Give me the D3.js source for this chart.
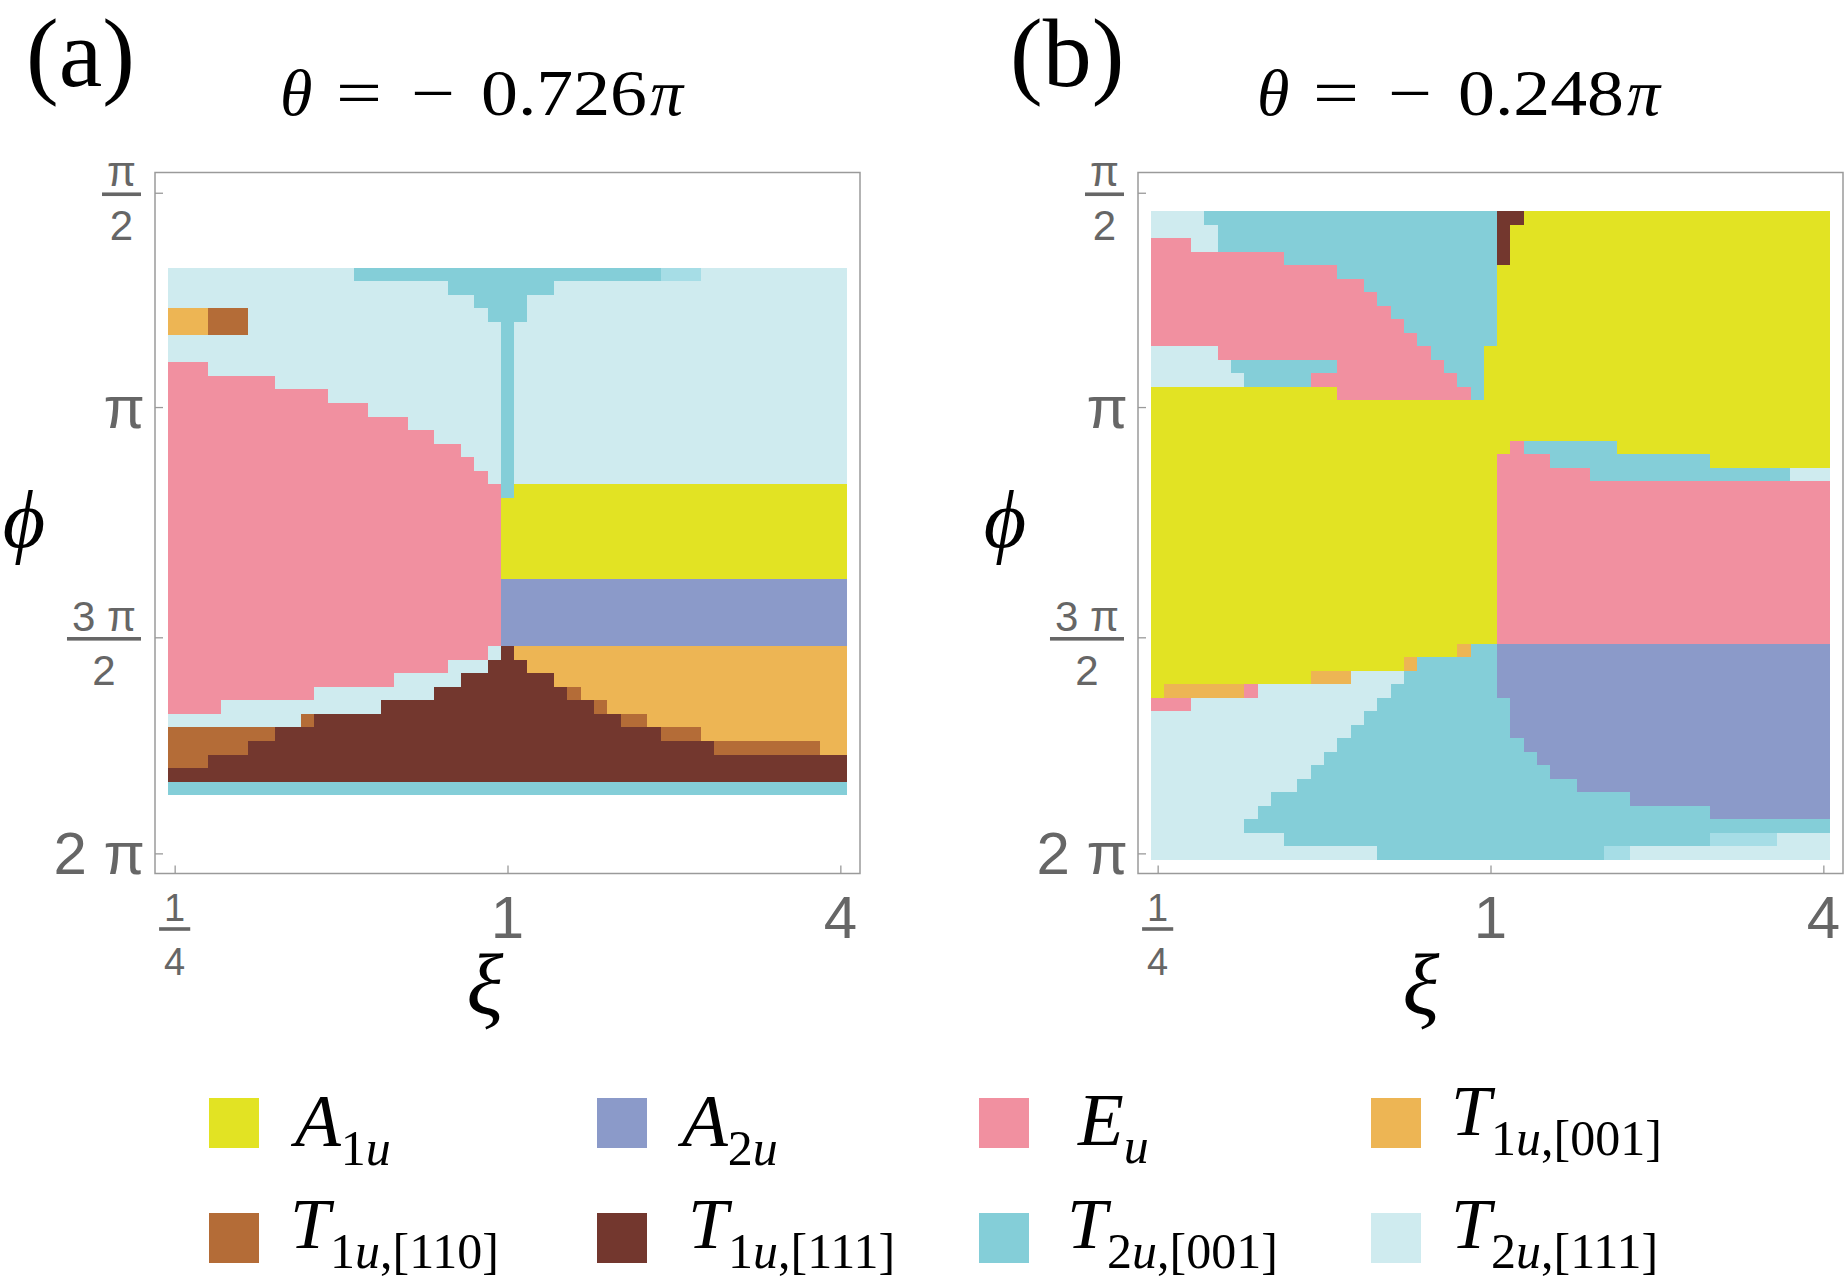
<!DOCTYPE html>
<html>
<head>
<meta charset="utf-8">
<script src="https://cdn.jsdelivr.net/npm/d3@7"></script>
<style>
  body { margin: 0; background: #fff; }
  svg { display: block; }
</style>
</head>
<body>
<svg id="chart" width="1845" height="1278"></svg>
<script>
// ---- data ----
// phase codes: Y=A1u, B=A2u, E=Eu, O=T1u[001], R=T1u[110], D=T1u[111], C=T2u[001], L=T2u[111], M=mixed T2u cell
var phaseCodes = ['Y', 'B', 'E', 'O', 'R', 'D', 'C', 'L', 'M'];
var phaseColors = ['#e2e323', '#8b9ac9', '#f190a0', '#edb554', '#b46c37', '#73372e', '#84ced8', '#cfebef', '#a6dde6'];

// xi grid (log spaced), 51 columns from 1/4 to 4
var xiMin = 0.25, xiMax = 4, xiCount = 51;
var xiTicks = [0.25, 1, 4];
var xiTickLabels = [['1', '4'], '1', '4'];

// phi ticks, given in grid-row units of panel (b)
var phiTickRows = [-1.35, 14.5, 31.53, 47.51];
var phiTickLabels = [['π', '2'], 'π', ['3 π', '2'], '2 π'];

var thetaValues = ['0.726', '0.248'];
var panelLetters = ['(a)', '(b)'];

// panel (a): 39 rows starting 4.2 rows below panel (b)'s first row; run-length coded
var rowStartA = 4.2;
var rowsA = [
  'L14 C23 M3 L11',
  'L21 C8 L22',
  'L23 C4 L24',
  'O3 R3 L18 C3 L24',
  'O3 R3 L19 C1 L25',
  'L25 C1 L25',
  'L25 C1 L25',
  'E3 L22 C1 L25',
  'E8 L17 C1 L25',
  'E12 L13 C1 L25',
  'E15 L10 C1 L25',
  'E18 L7 C1 L25',
  'E20 L5 C1 L25',
  'E22 L3 C1 L25',
  'E23 L2 C1 L25',
  'E24 L1 C1 L25',
  'E25 C1 Y25',
  'E25 Y26', 'E25 Y26', 'E25 Y26', 'E25 Y26', 'E25 Y26', 'E25 Y26',
  'E25 B26', 'E25 B26', 'E25 B26', 'E25 B26', 'E25 B26',
  'E24 L1 D1 O25',
  'E21 L3 D3 O24',
  'E17 L5 D7 O22',
  'E11 L9 D10 R1 O20',
  'E4 L12 D16 R1 O18',
  'L10 R1 D23 R2 O15',
  'R8 D29 R3 O11',
  'R6 D35 R8 O2',
  'R3 D48',
  'D51',
  'C51'
];

// panel (b): 48 rows
var rowStartB = 0;
var rowsB = [
  'L4 C22 D2 Y23',
  'L5 C21 D1 Y24',
  'E3 L2 C21 D1 Y24',
  'E10 C16 D1 Y24',
  'E14 C12 Y25',
  'E16 C10 Y25',
  'E17 C9 Y25',
  'E18 C8 Y25',
  'E19 C7 Y25',
  'E20 C6 Y25',
  'L5 E16 C4 Y26',
  'L6 C8 E8 C3 Y26',
  'L7 C5 E11 C2 Y26',
  'Y14 E10 C1 Y26',
  'Y51', 'Y51', 'Y51',
  'Y27 E1 C7 Y16',
  'Y26 E4 C12 Y9',
  'Y26 E7 C15 L3',
  'Y26 E25', 'Y26 E25', 'Y26 E25', 'Y26 E25', 'Y26 E25', 'Y26 E25',
  'Y26 E25', 'Y26 E25', 'Y26 E25', 'Y26 E25', 'Y26 E25', 'Y26 E25',
  'Y23 O1 C2 B25',
  'Y19 O1 C6 B25',
  'Y12 O3 L4 C7 B25',
  'Y1 O6 E1 L10 C8 B25',
  'E3 L14 C10 B24',
  'L16 C11 B24',
  'L15 C12 B24',
  'L14 C14 B23',
  'L13 C16 B22',
  'L12 C18 B21',
  'L11 C21 B19',
  'L9 C27 B15',
  'L8 C34 B9',
  'L7 C44',
  'L10 C32 M5 L4',
  'L17 C17 M2 L15'
];

// legend: code, main letter, subscript pieces [text, italic]
var legendCodes = ['Y', 'B', 'E', 'O', 'R', 'D', 'C', 'L'];
var legendMain = ['A', 'A', 'E', 'T', 'T', 'T', 'T', 'T'];
var legendSubs = [
  [['1', 0], ['u', 1]],
  [['2', 0], ['u', 1]],
  [['u', 1]],
  [['1', 0], ['u', 1], [',[001]', 0]],
  [['1', 0], ['u', 1], [',[110]', 0]],
  [['1', 0], ['u', 1], [',[111]', 0]],
  [['2', 0], ['u', 1], [',[001]', 0]],
  [['2', 0], ['u', 1], [',[111]', 0]]
];

// ---- layout ----
var serif = "'Liberation Serif', 'Times New Roman', serif";
var sans = "'Liberation Sans', Arial, sans-serif";
var tickGray = '#666';
var frameGray = '#9a9a9a';

var frameTop = 172.5, frameH = 701, frameW = 705, inset = 13;
var panelLefts = [155, 1138];
var letterX = [26, 1010];
var titleStart = [280, 1257];
var phiLabelX = [24, 1005];
var xiLabelX = [485, 1421];

var color = d3.scaleOrdinal().domain(phaseCodes).range(phaseColors);
// rows in grid units of panel (b)
var y = d3.scaleLinear().domain([0, 48]).range([211, 860]);

var svg = d3.select('#chart');

var logStep = (Math.log(xiMax) - Math.log(xiMin)) / (xiCount - 1);
function xiEdge(k) {
  // left edge of column k in xi units
  return Math.exp(Math.log(xiMin) + (k - 0.5) * logStep);
}

function parseRuns(s) {
  var runs = [], k = 0;
  s.split(' ').forEach(function (tok) {
    var n = +tok.slice(1);
    runs.push({code: tok[0], k0: k, k1: k + n});
    k += n;
  });
  return runs;
}

function fraction(g, cx, barY, num, den, size, anchorRight) {
  var t = g.append('g');
  var n = t.append('text').attr('text-anchor', 'middle').attr('y', barY - 8)
    .attr('font-size', size).attr('fill', tickGray).attr('font-family', sans).text(num);
  var d = t.append('text').attr('text-anchor', 'middle').attr('y', barY + 46)
    .attr('font-size', size).attr('fill', tickGray).attr('font-family', sans).text(den);
  var w = Math.max(n.node().getComputedTextLength(), d.node().getComputedTextLength()) + 10;
  if (anchorRight) w = Math.max(w, 36);
  var c = anchorRight ? cx - w / 2 : cx;
  n.attr('x', c); d.attr('x', c);
  t.append('rect').attr('x', c - w / 2).attr('y', barY - 1.8).attr('width', w).attr('height', 3.6)
    .attr('fill', tickGray);
}

function drawPanel(i, rows, rowStart) {
  var left = panelLefts[i];
  var x = d3.scaleLog().base(4).domain([xiMin, xiMax])
    .range([left + inset + (frameW - 2 * inset) / xiCount / 2,
            left + frameW - inset - (frameW - 2 * inset) / xiCount / 2]);
  var g = svg.append('g');

  // cells
  var cells = [];
  rows.forEach(function (s, r) {
    parseRuns(s).forEach(function (run) {
      run.row = rowStart + r;
      cells.push(run);
    });
  });
  g.append('g').attr('shape-rendering', 'crispEdges')
    .selectAll('rect').data(cells).join('rect')
    .attr('x', function (d) { return x(xiEdge(d.k0)); })
    .attr('width', function (d) { return x(xiEdge(d.k1)) - x(xiEdge(d.k0)); })
    .attr('y', function (d) { return y(d.row); })
    .attr('height', function (d) { return y(d.row + 1) - y(d.row); })
    .attr('fill', function (d) { return color(d.code); });

  // frame
  g.append('rect').attr('x', left).attr('y', frameTop).attr('width', frameW).attr('height', frameH)
    .attr('fill', 'none').attr('stroke', frameGray).attr('stroke-width', 1.5);

  // ticks
  var ax = g.append('g').attr('transform', 'translate(0,' + (frameTop + frameH) + ')')
    .call(d3.axisBottom(x).tickValues(xiTicks).tickSize(-8).tickFormat(''));
  var ay = g.append('g').attr('transform', 'translate(' + left + ',0)')
    .call(d3.axisLeft(y).tickValues(phiTickRows).tickSize(-8).tickFormat(''));
  [ax, ay].forEach(function (a) {
    a.select('.domain').remove();
    a.selectAll('line').attr('stroke', frameGray).attr('stroke-width', 1.3);
  });

  // x tick labels
  xiTicks.forEach(function (v, j) {
    var lab = xiTickLabels[j];
    if (Array.isArray(lab)) {
      fraction(g, x(v), 929, lab[0], lab[1], 38, false);
    } else {
      g.append('text').attr('x', x(v)).attr('y', 938).attr('text-anchor', 'middle')
        .attr('font-family', sans).attr('font-size', 60).attr('fill', tickGray).text(lab);
    }
  });

  // y tick labels
  var labRight = left - 14;
  phiTickRows.forEach(function (v, j) {
    var lab = phiTickLabels[j];
    var ty = y(v);
    if (Array.isArray(lab)) {
      fraction(g, labRight, ty + 1.5, lab[0], lab[1], 42, true);
    } else {
      g.append('text').attr('x', labRight + 4).attr('y', ty + 21).attr('text-anchor', 'end')
        .attr('font-family', sans).attr('font-size', 60).attr('fill', tickGray).text(lab);
    }
  });

  // axis titles
  g.append('text').attr('x', phiLabelX[i]).attr('y', 547).attr('text-anchor', 'middle')
    .attr('font-family', serif).attr('font-style', 'italic').attr('font-size', 82).text('ϕ');
  g.append('text').attr('x', xiLabelX[i]).attr('y', 1014).attr('text-anchor', 'middle')
    .attr('font-family', serif).attr('font-style', 'italic').attr('font-size', 86).text('ξ');

  // panel letter and title: θ = − value π, pieces placed like the original layout
  g.append('text').attr('x', letterX[i]).attr('y', 86)
    .attr('font-family', serif).attr('font-size', 98).text(panelLetters[i]);
  var x0 = titleStart[i];
  var tg = g.append('g').attr('font-family', serif).attr('font-size', 66);
  tg.append('text').attr('x', x0).attr('y', 115).attr('font-style', 'italic').text('θ');
  tg.append('text').attr('x', x0 + 56).attr('y', 115)
    .attr('textLength', 46).attr('lengthAdjust', 'spacingAndGlyphs').text('=');
  tg.append('text').attr('x', x0 + 131).attr('y', 115)
    .attr('textLength', 44).attr('lengthAdjust', 'spacingAndGlyphs').text('−');
  tg.append('text').attr('x', x0 + 201).attr('y', 115)
    .attr('textLength', 166).attr('lengthAdjust', 'spacingAndGlyphs').text(thetaValues[i]);
  tg.append('text').attr('x', x0 + 370).attr('y', 115).attr('font-style', 'italic').text('π');
}

drawPanel(0, rowsA, rowStartA);
drawPanel(1, rowsB, rowStartB);

// ---- legend ----
var swatchX = [209, 597, 979, 1371];
var swatchY = [1098, 1213];
var labelX = [[295, 682, 1078, 1451], [290, 688, 1067, 1451]];
var labelBase = [[1146, 1146, 1145, 1135], [1248, 1248, 1248, 1248]];
var subDrop = [[19, 19, 18, 20], [20, 20, 20, 20]];
var mainSize = [[75, 75, 75, 72], [72, 72, 72, 72]];

var lg = svg.append('g');
legendCodes.forEach(function (code, i) {
  var r = Math.floor(i / 4), c = i % 4;
  lg.append('rect').attr('x', swatchX[c]).attr('y', swatchY[r]).attr('width', 50).attr('height', 50)
    .attr('fill', color(code));
  var t = lg.append('text').attr('x', labelX[r][c]).attr('y', labelBase[r][c])
    .attr('font-family', serif).attr('font-size', mainSize[r][c]);
  t.append('tspan').attr('font-style', 'italic').text(legendMain[i]);
  legendSubs[i].forEach(function (p, j) {
    var sp = t.append('tspan').attr('font-size', 50).attr('font-style', p[1] ? 'italic' : 'normal').text(p[0]);
    if (j === 0) sp.attr('dy', subDrop[r][c]);
  });
});
</script>
</body>
</html>
